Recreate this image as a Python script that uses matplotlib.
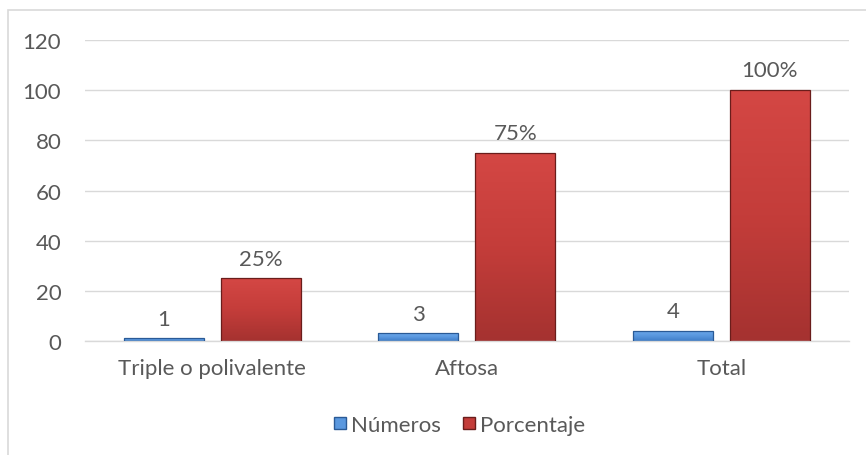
import matplotlib
matplotlib.use("Agg")
import matplotlib.pyplot as plt
import numpy as np
from matplotlib.patches import Rectangle
from matplotlib.colors import LinearSegmentedColormap
from matplotlib.lines import Line2D

categories = ["Triple o polivalente", "Aftosa", "Total"]
numeros = [1, 3, 4]
porcentaje = [25, 75, 100]
porcentaje_labels = ["25%", "75%", "100%"]
yticks = [0, 20, 40, 60, 80, 100, 120]

plt.rcParams['font.family'] = ['Lato', 'DejaVu Sans']
txt = '#595959'
fs = 16

fig = plt.figure(figsize=(8.66, 4.56), dpi=100)
ax = fig.add_axes([0.098, 0.25, 0.882, 0.66])

x = np.arange(len(categories))
w = 0.314
off = (w + 0.067) / 2

blue_cmap = LinearSegmentedColormap.from_list('b', ['#3f7dc8', '#5a98df', '#6eaaec'])
red_cmap = LinearSegmentedColormap.from_list('r', ['#a53230', '#c43d3a', '#d44744'])

def grad_bars(xs, vals, cmap, edge):
    bars = ax.bar(xs, vals, w, color='none', edgecolor=edge, linewidth=0.9, zorder=3)
    for b in bars:
        x0, y0 = b.get_x(), b.get_y()
        bw, bh = b.get_width(), b.get_height()
        grad = np.linspace(0, 1, 100).reshape(-1, 1)
        im = ax.imshow(grad, extent=[x0, x0 + bw, y0, y0 + bh], origin='lower',
                       cmap=cmap, aspect='auto', zorder=2)
        im.set_clip_path(b)
    return bars

grad_bars(x - off, numeros, blue_cmap, '#2a5a96')
grad_bars(x + off, porcentaje, red_cmap, '#6a1d1b')

for xi, v in zip(x - off, numeros):
    ax.annotate(str(v), (xi, v), xytext=(0, 7), textcoords='offset points',
                ha='center', va='bottom', fontsize=fs, color=txt)
for xi, v, l in zip(x + off, porcentaje, porcentaje_labels):
    ax.annotate(l, (xi, v), xytext=(0, 7), textcoords='offset points',
                ha='center', va='bottom', fontsize=fs, color=txt)

ax.set_xlim(-0.5, len(categories) - 0.5)
ax.set_ylim(0, 120)
ax.set_yticks(yticks)
ax.set_xticks(x)
ax.set_xticklabels(categories)
ax.tick_params(axis='both', length=0, labelsize=fs, colors=txt)
ax.tick_params(axis='x', pad=12)
ax.tick_params(axis='y', pad=17)
ax.yaxis.grid(True, color='#d9d9d9', linewidth=1)
ax.set_axisbelow(True)
for s in ['top', 'right', 'left']:
    ax.spines[s].set_visible(False)
ax.spines['bottom'].set_color('#d9d9d9')
ax.spines['bottom'].set_linewidth(1)

handles = [Line2D([], [], marker='s', linestyle='none', markersize=8,
                  markerfacecolor='#5a98df', markeredgecolor='#2a5a96'),
           Line2D([], [], marker='s', linestyle='none', markersize=8,
                  markerfacecolor='#c43d3a', markeredgecolor='#6a1d1b')]
fig.legend(handles, ['Números', 'Porcentaje'], loc='center', bbox_to_anchor=(0.529, 0.066),
           ncol=2, frameon=False, fontsize=fs, handlelength=0.8, handletextpad=0.1,
           columnspacing=0.9, labelcolor=txt)

# chart border (left/top visible)
fig.add_artist(Rectangle((8/866, -0.1), 1.2, (456 - 11)/456 + 0.1, transform=fig.transFigure,
                         fill=False, edgecolor='#d9d9d9', linewidth=1.2))

fig.savefig('out.png', dpi=100)
